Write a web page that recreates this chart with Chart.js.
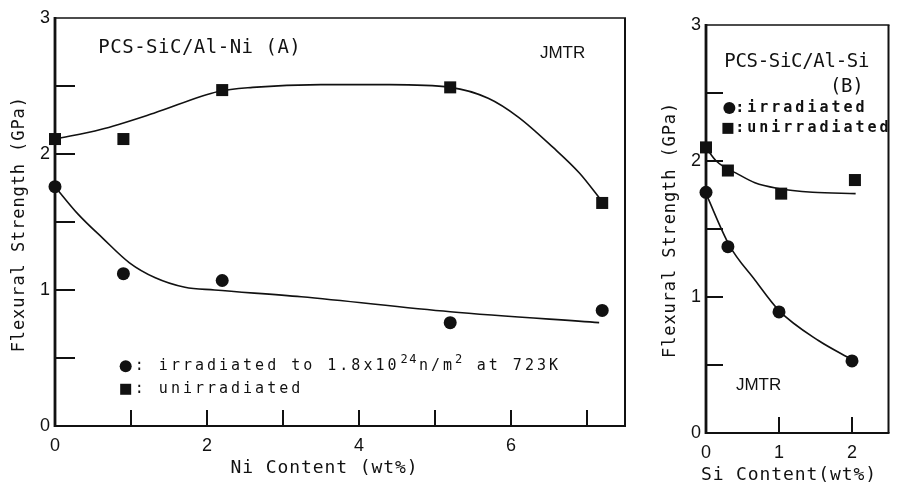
<!DOCTYPE html>
<html><head><meta charset="utf-8">
<script src="https://cdn.jsdelivr.net/npm/chart.js@4.4.0/dist/chart.umd.min.js"></script>
<style>
html,body{margin:0;padding:0;background:#fff;width:897px;height:488px;overflow:hidden}
#wa{position:absolute;left:0;top:0;width:640px;height:488px}
#wb{position:absolute;left:640px;top:0;width:257px;height:488px}
</style></head><body>
<div id="wa"><canvas id="ca"></canvas></div>
<div id="wb"><canvas id="cb"></canvas></div>
<script>
// ---- Panel A: PCS-SiC/Al-Ni ----
const niIrrX = [0, 0.9, 2.2, 5.2, 7.2];
const niIrrY = [1.76, 1.12, 1.07, 0.76, 0.85];
const niUnX = [0, 0.9, 2.2, 5.2, 7.2];
const niUnY = [2.11, 2.11, 2.47, 2.49, 1.64];
const niUnCurveX = [0, 0.6, 1.3, 2.15, 2.6, 3.5, 4.4, 5.2, 5.7, 6.1, 6.55, 6.9, 7.2];
const niUnCurveY = [2.11, 2.18, 2.3, 2.46, 2.49, 2.51, 2.51, 2.49, 2.41, 2.27, 2.05, 1.86, 1.65];
const niIrrCurveX = [0, 0.3, 0.63, 0.98, 1.32, 1.71, 2.1, 3.24, 5.2, 7.16];
const niIrrCurveY = [1.76, 1.56, 1.38, 1.2, 1.09, 1.02, 1.0, 0.95, 0.84, 0.76];
const niXTickLabels = [0, 2, 4, 6];
const niXMinorTicks = [1, 2, 3, 4, 5, 6, 7];
const yTickLabels = [0, 1, 2, 3];
const yMinorTicks = [0.5, 1, 1.5, 2, 2.5];

// ---- Panel B: PCS-SiC/Al-Si ----
const siIrrX = [0, 0.3, 1.0, 2.0];
const siIrrY = [1.77, 1.37, 0.89, 0.53];
const siUnX = [0, 0.3, 1.03, 2.04];
const siUnY = [2.1, 1.93, 1.76, 1.86];
const siUnCurveX = [0, 0.14, 0.45, 0.67, 0.97, 1.46, 2.05];
const siUnCurveY = [2.1, 2.0, 1.9, 1.84, 1.8, 1.77, 1.76];
const siIrrCurveX = [0, 0.32, 0.67, 1.0, 1.54, 2.0];
const siIrrCurveY = [1.76, 1.38, 1.125, 0.9, 0.68, 0.54];
const siXTickLabels = [0, 1, 2];
const siXMinorTicks = [1, 2];

const INK = '#111';
const MONO = '"DejaVu Sans Mono", "Liberation Mono", monospace';
const pts = (xs, ys) => xs.map((x, i) => ({x: x, y: ys[i]}));

function drawSpaced(ctx, text, x, y, sp) {
  let cx = x;
  for (const ch of text) { ctx.fillText(ch, cx, y); cx += ctx.measureText(ch).width + sp; }
  return cx;
}
function spacedWidth(ctx, text, sp) {
  let w = 0; for (const ch of text) w += ctx.measureText(ch).width + sp; return w - sp;
}

const framePlugin = {
  id: 'frame',
  beforeDatasetsDraw(chart, args, o) {
    const {ctx, chartArea: a, scales: {x, y}} = chart;
    const ln = (x1, y1, x2, y2) => { ctx.beginPath(); ctx.moveTo(x1, y1); ctx.lineTo(x2, y2); ctx.stroke(); };
    ctx.save();
    ctx.strokeStyle = INK;
    ctx.lineWidth = 1.4; ln(a.left, a.top, a.right + 1, a.top);
    ctx.lineWidth = 2; ln(a.right, a.top, a.right, a.bottom);
    ctx.lineWidth = 2.2; ln(a.left, a.bottom, a.right + 1, a.bottom);
    ctx.lineWidth = 2.8; ln(a.left, a.top - 1, a.left, a.bottom + 1);
    ctx.lineWidth = 2;
    o.yMinor.forEach(v => { const p = y.getPixelForValue(v); ln(a.left, p, a.left + o.yLen, p); });
    o.xMinor.forEach(v => { const p = x.getPixelForValue(v); ln(p, a.bottom, p, a.bottom - o.xLen); });
    ctx.restore();
  }
};

const textPlugin = {
  id: 'texts',
  afterDraw(chart, args, o) {
    const {ctx, scales: {x, y}} = chart;
    ctx.save();
    ctx.fillStyle = INK; ctx.strokeStyle = INK;
    ctx.textBaseline = 'middle';
    for (const it of o.items) {
      const px = x.getPixelForValue(it.x), py = y.getPixelForValue(it.y);
      if (it.sym) {
        ctx.beginPath();
        if (it.sym === 'circle') ctx.arc(px, py, it.r, 0, Math.PI * 2);
        else ctx.rect(px - it.r, py - it.r, it.r * 2, it.r * 2);
        ctx.fill();
        continue;
      }
      if (it.segs) {
        let cx = px;
        for (const s of it.segs) {
          ctx.font = s.font; ctx.textAlign = 'left';
          cx = drawSpaced(ctx, s.t, cx + (s.pre || 0), py - (s.raise || 0), s.sp);
        }
        continue;
      }
      ctx.font = it.font; ctx.textAlign = 'left';
      const w = spacedWidth(ctx, it.t, it.sp);
      if (it.rot) {
        ctx.save(); ctx.translate(px, py); ctx.rotate(-Math.PI / 2);
        drawSpaced(ctx, it.t, -w / 2, 0, it.sp);
        ctx.restore();
      } else {
        let sx = px;
        if (it.align === 'center') sx = px - w / 2;
        else if (it.align === 'right') sx = px - w;
        drawSpaced(ctx, it.t, sx, py, it.sp);
      }
    }
    ctx.restore();
  }
};

function makeChart(id, cfg) {
  return new Chart(document.getElementById(id), {
    type: 'scatter',
    data: {datasets: [
      {data: pts(cfg.unX, cfg.unY), pointStyle: 'rect', pointRadius: 8.5, backgroundColor: INK, borderWidth: 0, order: 1, clip: false},
      {data: pts(cfg.irrX, cfg.irrY), pointStyle: 'circle', pointRadius: 6.5, backgroundColor: INK, borderWidth: 0, order: 1, clip: false},
      {data: pts(cfg.unCX, cfg.unCY), showLine: true, pointRadius: 0, borderColor: INK, borderWidth: 1.6, cubicInterpolationMode: 'monotone', fill: false, order: 2, clip: false},
      {data: pts(cfg.irrCX, cfg.irrCY), showLine: true, pointRadius: 0, borderColor: INK, borderWidth: 1.6, cubicInterpolationMode: 'monotone', fill: false, order: 2, clip: false}
    ]},
    options: {
      responsive: true, maintainAspectRatio: false, animation: false, devicePixelRatio: 1,
      layout: {padding: cfg.pad},
      plugins: {legend: {display: false}, tooltip: {enabled: false},
        frame: {yMinor: yMinorTicks, xMinor: cfg.xMinor, yLen: cfg.yLen, xLen: 16},
        texts: {items: cfg.texts}},
      scales: {
        x: {type: 'linear', min: 0, max: cfg.xMax,
          grid: {display: false, drawTicks: false}, border: {display: false},
          ticks: {color: INK, font: {family: '"Liberation Sans", Arial, sans-serif', size: 18}, padding: 9, maxRotation: 0},
          afterBuildTicks: s => { s.ticks = cfg.xLabels.map(v => ({value: v})); },
          afterFit: s => { s.height = cfg.xH; }},
        y: {type: 'linear', min: 0, max: 3,
          grid: {display: false, drawTicks: false}, border: {display: false},
          ticks: {color: INK, font: {family: '"Liberation Sans", Arial, sans-serif', size: 18}, padding: 5},
          afterBuildTicks: s => { s.ticks = yTickLabels.map(v => ({value: v})); },
          afterFit: s => { s.width = cfg.yW; }}
      }
    },
    plugins: [framePlugin, textPlugin]
  });
}

const legFont = '15px ' + MONO, supFont = '12px ' + MONO;
makeChart('ca', {
  unX: niUnX, unY: niUnY, irrX: niIrrX, irrY: niIrrY,
  unCX: niUnCurveX, unCY: niUnCurveY, irrCX: niIrrCurveX, irrCY: niIrrCurveY,
  xMax: 7.5, xLabels: niXTickLabels, xMinor: niXMinorTicks, yLen: 20,
  pad: {left: 0, right: 15, top: 18, bottom: 0}, xH: 62, yW: 55,
  texts: [
    {t: 'PCS-SiC/Al-Ni (A)', x: 0.57, y: 2.78, font: '19px ' + MONO, sp: 0.5},
    {t: 'JMTR', x: 6.38, y: 2.74, font: '17px "Liberation Sans", Arial, sans-serif', sp: 0},
    {sym: 'circle', x: 0.93, y: 0.44, r: 6},
    {x: 1.05, y: 0.44, segs: [
      {t: ': irradiated to 1.8x10', font: legFont, sp: 3},
      {t: '24', font: supFont, sp: 1.5, raise: 6, pre: 1},
      {t: 'n/m', font: legFont, sp: 3, pre: 1},
      {t: '2', font: supFont, sp: 1.5, raise: 6, pre: 0},
      {t: ' at 723K', font: legFont, sp: 3, pre: 1}
    ]},
    {sym: 'rect', x: 0.93, y: 0.27, r: 5.5},
    {t: ': unirradiated', x: 1.05, y: 0.27, font: legFont, sp: 3},
    {t: 'Ni Content (wt%)', x: 3.54, y: -0.31, font: '18px ' + MONO, sp: 0.9, align: 'center'},
    {t: 'Flexural Strength (GPa)', x: -0.47, y: 1.48, font: '17px ' + MONO, sp: 0.9, rot: true}
  ]
});

const legBFont = 'bold 15px ' + MONO;
makeChart('cb', {
  unX: siUnX, unY: siUnY, irrX: siIrrX, irrY: siIrrY,
  unCX: siUnCurveX, unCY: siUnCurveY, irrCX: siIrrCurveX, irrCY: siIrrCurveY,
  xMax: 2.5, xLabels: siXTickLabels, xMinor: siXMinorTicks, yLen: 17,
  pad: {left: 0, right: 1, top: 25, bottom: 0}, xH: 55, yW: 66,
  texts: [
    {t: 'PCS-SiC/Al-Si', x: 0.25, y: 2.73, font: '19px ' + MONO, sp: -0.3},
    {t: '(B)', x: 2.16, y: 2.54, font: '19px ' + MONO, sp: -0.3, align: 'right'},
    {sym: 'circle', x: 0.32, y: 2.39, r: 6},
    {t: ':irradiated', x: 0.4, y: 2.39, font: legBFont, sp: 3},
    {sym: 'rect', x: 0.3, y: 2.24, r: 5.5},
    {t: ':unirradiated', x: 0.4, y: 2.24, font: legBFont, sp: 3},
    {t: 'JMTR', x: 0.41, y: 0.35, font: '17px "Liberation Sans", Arial, sans-serif', sp: 0},
    {t: 'Si Content(wt%)', x: 1.13, y: -0.31, font: '18px ' + MONO, sp: 0.9, align: 'center'},
    {t: 'Flexural Strength (GPa)', x: -0.49, y: 1.49, font: '17px ' + MONO, sp: 0.9, rot: true}
  ]
});
</script>
</body></html>
